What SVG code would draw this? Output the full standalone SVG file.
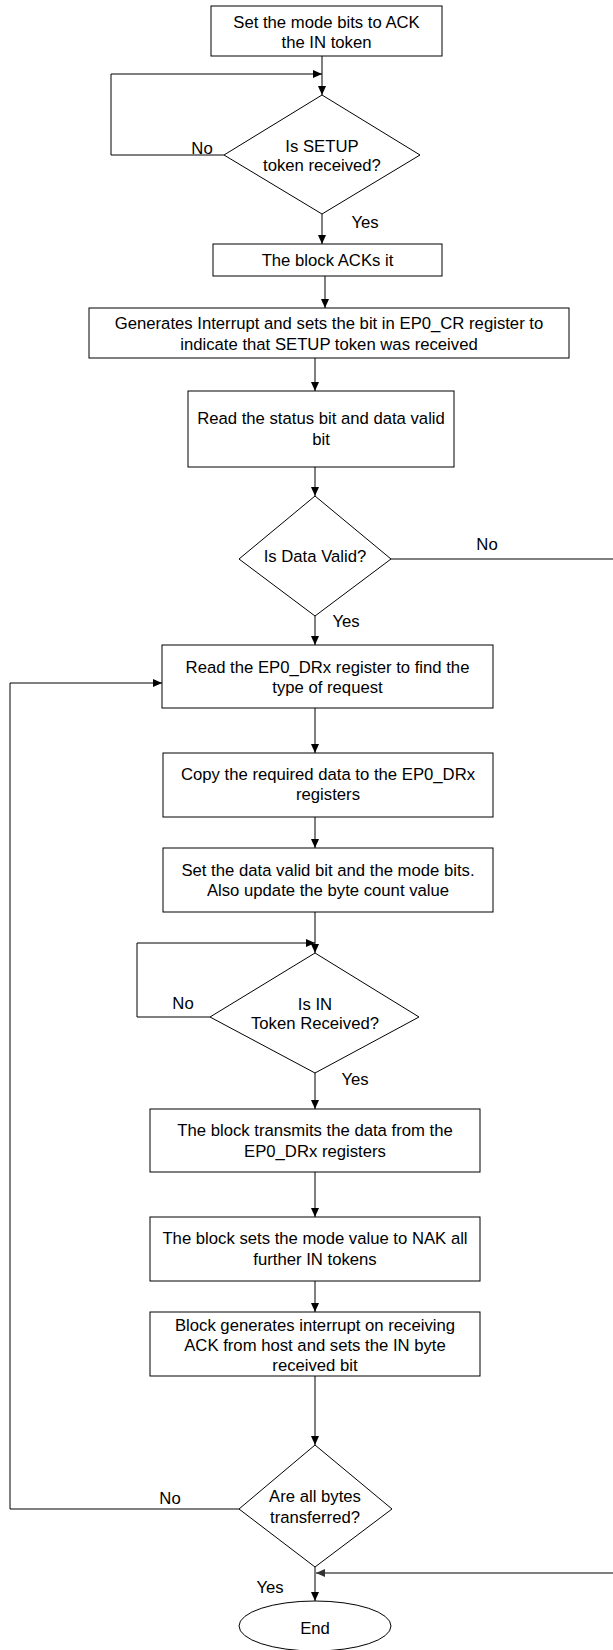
<svg xmlns="http://www.w3.org/2000/svg" width="613" height="1650" viewBox="0 0 613 1650">
<style>
.n rect,.n polygon,.n ellipse{fill:#fff;stroke:#000;stroke-width:1}
text{font-family:"Liberation Sans",Arial,sans-serif;font-size:16.7px;fill:#000;text-anchor:middle}
.c path{fill:none;stroke:#000;stroke-width:1}
.c path.g{stroke:#555;stroke-width:1.3}
</style>
<defs>
<marker id="a" markerUnits="userSpaceOnUse" markerWidth="9" markerHeight="8" refX="9" refY="4" orient="auto"><path d="M0,0 L9,4 L0,8 z" fill="#000"/></marker>
<marker id="ag" markerUnits="userSpaceOnUse" markerWidth="9" markerHeight="8" refX="9" refY="4" orient="auto"><path d="M0,0 L9,4 L0,8 z" fill="#333"/></marker>
</defs>
<rect width="613" height="1650" fill="#fff"/>
<g class="c">
<path d="M322,56 V95" marker-end="url(#a)"/>
<path d="M224,155 H111 V74 H322" marker-end="url(#a)"/>
<path d="M322,214 V244" marker-end="url(#a)"/>
<path d="M325,276 V308" marker-end="url(#a)"/>
<path d="M315,358 V391" marker-end="url(#a)"/>
<path d="M315,467 V496" marker-end="url(#a)"/>
<path d="M315,616 V645" marker-end="url(#a)"/>
<path d="M315,708 V753" marker-end="url(#a)"/>
<path d="M315,817 V848" marker-end="url(#a)"/>
<path d="M315,912 V953" marker-end="url(#a)"/>
<path d="M210,1017 H137 V943 H315" marker-end="url(#a)"/>
<path d="M315,1073 V1109" marker-end="url(#a)"/>
<path d="M315,1172 V1217" marker-end="url(#a)"/>
<path d="M315,1281 V1312" marker-end="url(#a)"/>
<path d="M315,1376 V1445" marker-end="url(#a)"/>
<path d="M239,1509 H10 V683 H162" marker-end="url(#a)"/>
<path d="M315,1567 V1601" marker-end="url(#a)"/>
<path class="g" d="M391,559 H614 V1573 H316" marker-end="url(#ag)"/>
</g>
<g id="n1" class="n"><rect x="211" y="6" width="231" height="50"/><text x="326.5" y="28">Set the mode bits to ACK</text><text x="326.5" y="48">the IN token</text></g>
<g id="d1" class="n"><polygon points="322,95 420,155 322,214 224,155"/><text x="322" y="152">Is SETUP</text><text x="322" y="171">token received?</text></g>
<g id="n2" class="n"><rect x="213" y="244" width="229" height="32"/><text x="327.5" y="266">The block ACKs it</text></g>
<g id="n3" class="n"><rect x="89" y="308" width="480" height="50"/><text x="329" y="329">Generates Interrupt and sets the bit in EP0_CR register to</text><text x="329" y="350">indicate that SETUP token was received</text></g>
<g id="n4" class="n"><rect x="188" y="391" width="266" height="76"/><text x="321" y="424">Read the status bit and data valid</text><text x="321" y="445">bit</text></g>
<g id="d2" class="n"><polygon points="315,496 391,559 315,616 239,559"/><text x="315" y="562">Is Data Valid?</text></g>
<g id="n5" class="n"><rect x="162" y="645" width="331" height="63"/><text x="327.5" y="673">Read the EP0_DRx register to find the</text><text x="327.5" y="693">type of request</text></g>
<g id="n6" class="n"><rect x="163" y="753" width="330" height="64"/><text x="328" y="780">Copy the required data to the EP0_DRx</text><text x="328" y="800">registers</text></g>
<g id="n7" class="n"><rect x="163" y="848" width="330" height="64"/><text x="328" y="876">Set the data valid bit and the mode bits.</text><text x="328" y="896">Also update the byte count value</text></g>
<g id="d3" class="n"><polygon points="315,953 419,1017 315,1073 210,1017"/><text x="315" y="1010">Is IN</text><text x="315" y="1029">Token Received?</text></g>
<g id="n8" class="n"><rect x="150" y="1109" width="330" height="63"/><text x="315" y="1136">The block transmits the data from the</text><text x="315" y="1157">EP0_DRx registers</text></g>
<g id="n9" class="n"><rect x="150" y="1217" width="330" height="64"/><text x="315" y="1244">The block sets the mode value to NAK all</text><text x="315" y="1265">further IN tokens</text></g>
<g id="n10" class="n"><rect x="150" y="1312" width="330" height="64"/><text x="315" y="1331">Block generates interrupt on receiving</text><text x="315" y="1351">ACK from host and sets the IN byte</text><text x="315" y="1371">received bit</text></g>
<g id="d4" class="n"><polygon points="315,1445 392,1509 315,1567 239,1509"/><text x="315" y="1502">Are all bytes</text><text x="315" y="1523">transferred?</text></g>
<g id="end" class="n"><ellipse cx="315" cy="1626" rx="76" ry="25"/><text x="315" y="1634">End</text></g>
<g id="labels">
<text x="202" y="154">No</text>
<text x="365" y="228">Yes</text>
<text x="487" y="550">No</text>
<text x="346" y="627">Yes</text>
<text x="183" y="1009">No</text>
<text x="355" y="1085">Yes</text>
<text x="170" y="1504">No</text>
<text x="270" y="1593">Yes</text>
</g>
</svg>
